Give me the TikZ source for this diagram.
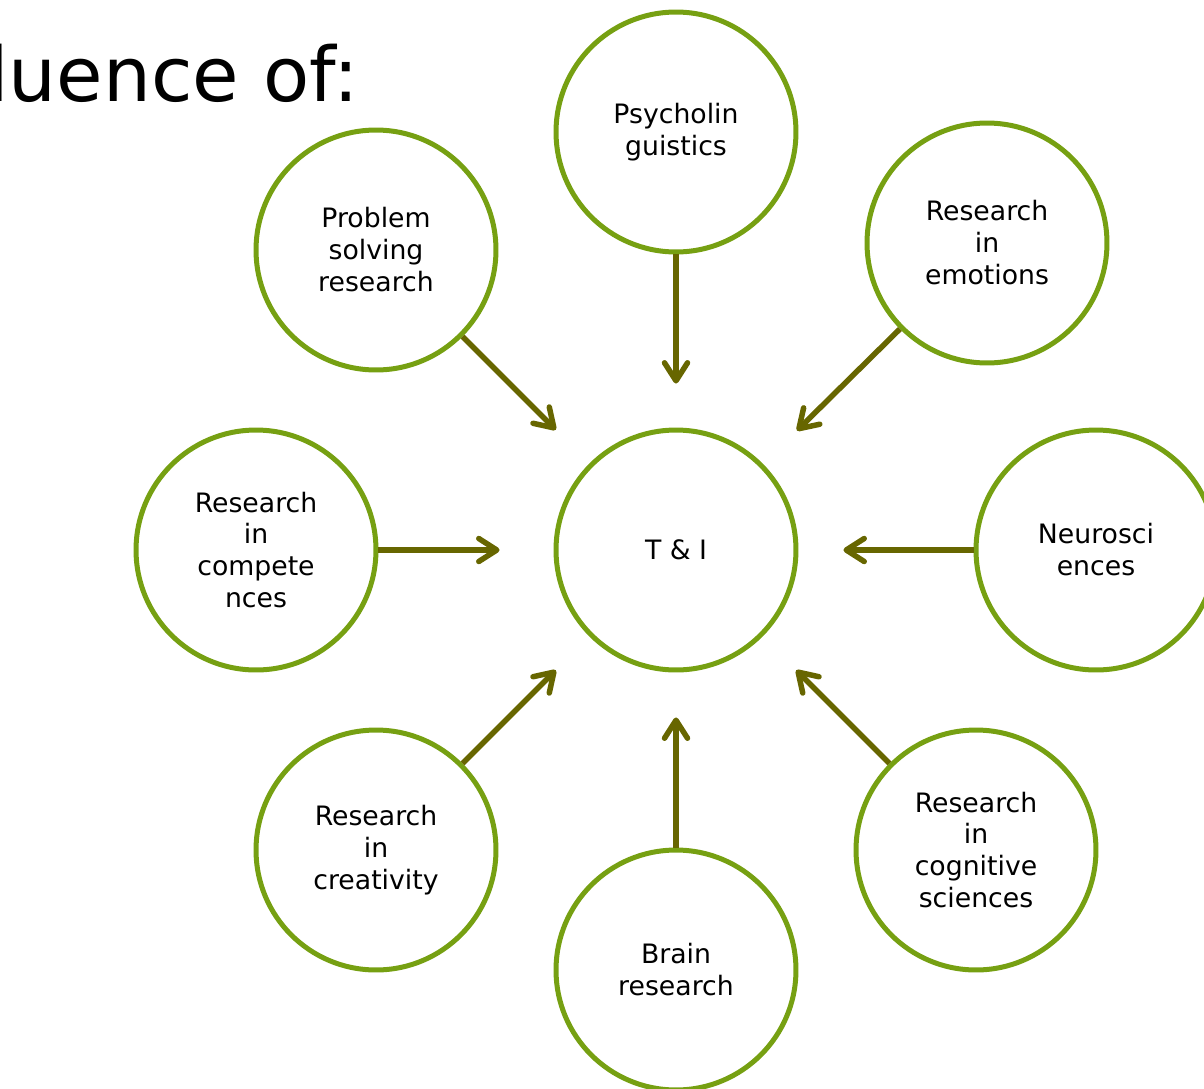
\documentclass[tikz,border=0pt]{standalone}
\usepackage{fontspec}
\setmainfont{DejaVu Sans}
\usetikzlibrary{arrows.meta}

\definecolor{ringgreen}{HTML}{76A012}
\definecolor{arrowolive}{HTML}{676600}

\tikzset{
    topic/.style={circle, draw=ringgreen, line width=0.1cm, minimum size=4.8cm,
        align=center, font=\fontsize{15.2}{18.2}\selectfont, inner sep=0pt},
    influence/.style={draw=arrowolive, line width=0.11cm,
        -{Straight Barb[length=0.36cm, width=0.46cm, line width=0.11cm, round]},
        shorten >=0.95cm}
}

\begin{document}
\begin{tikzpicture}[x=0.02cm, y=-0.02cm]
    \useasboundingbox (0,0) rectangle (1204,1089);
    \clip (0,0) rectangle (1204,1089);

    \node[anchor=base east, font=\fontsize{43}{50}\selectfont, inner sep=0pt]
        (title) at (359,101) {Influence of:};

    % the centre and the eight fields around it
    \node[topic] (ti) at (676,550) {T \& I};
    \node[topic] (psy) at (676,132) {Psycholin\\guistics};
    \node[topic] (prob) at (376,250) {Problem\\solving\\research};
    \node[topic] (emo) at (987,243) {Research\\in\\emotions};
    \node[topic] (comp) at (256,550) {Research\\in\\compete\\nces};
    \node[topic] (neuro) at (1096,550) {Neurosci\\ences};
    \node[topic] (crea) at (376,850) {Research\\in\\creativity};
    \node[topic] (brain) at (676,970) {Brain\\research};
    \node[topic] (cog) at (976,850) {Research\\in\\cognitive\\sciences};

    \draw[influence, shorten >=0.88cm] (psy) -- (ti);
    \draw[influence] (prob) -- (ti);
    \draw[influence] (emo) -- (ti);
    \draw[influence, shorten >=1.08cm] (comp) -- (ti);
    \draw[influence, shorten >=0.9cm] (neuro) -- (ti);
    \draw[influence] (crea) -- (ti);
    \draw[influence, shorten >=0.9cm] (brain) -- (ti);
    \draw[influence] (cog) -- (ti);
\end{tikzpicture}
\end{document}
